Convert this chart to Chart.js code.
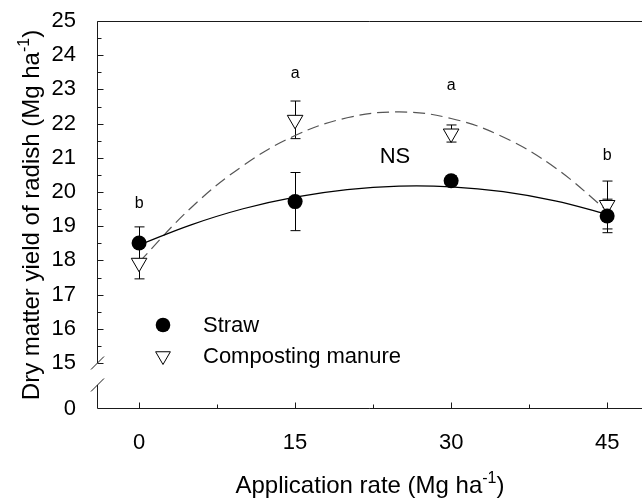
<!DOCTYPE html>
<html><head><meta charset="utf-8">
<script src="https://cdn.jsdelivr.net/npm/chart.js@4.4.0/dist/chart.umd.min.js"></script>
<style>html,body{margin:0;padding:0;background:#fff;overflow:hidden}canvas{display:block}</style>
</head><body><canvas id="c" width="642" height="499" style="width:642px;height:499px"></canvas>
<script>
// ---- data ----
const rates = [0, 15, 30, 45];
const strawMean = [18.51, 19.72, 20.33, 19.30];
const strawErr = [0.47, 0.85, 0.15, 0.49];
const manureMean = [17.93, 22.11, 21.71, 19.62];
const manureErr = [0.47, 0.55, 0.25, 0.70];
// fitted quadratic curves
const fitRates = [0, 5, 10, 15, 20, 25, 30, 35, 40, 45];
const strawFit = [18.45, 19.04, 19.51, 19.85, 20.07, 20.17, 20.15, 20.01, 19.74, 19.35];
const manureFit = [17.95, 19.54, 20.77, 21.65, 22.17, 22.34, 22.15, 21.61, 20.71, 19.45];
// tick labels
const xTicks = [0, 15, 30, 45];
const xMinorTicks = [7.5, 22.5, 37.5];
const yTicks = [15, 16, 17, 18, 19, 20, 21, 22, 23, 24, 25];
const yMinorTicks = [15.5, 16.5, 17.5, 18.5, 19.5, 20.5, 21.5, 22.5, 23.5, 24.5];
const yBreakLabel = '0';
// significance letters
const letterText = ['b', 'a', 'a', 'b'];
const letterY = [19.65, 23.45, 23.1, 21.05];
const nsText = 'NS';
const nsPos = [24.6, 21.02];
const seriesNames = ['Straw', 'Composting manure'];
const xTitle = ['Application rate (Mg ha', '-1', ')'];
const yTitle = ['Dry matter yield of radish (Mg ha', '-1', ')'];

const Y_MIN = 13.655;   // position used for the "0" of the broken axis
const Y_BREAK_LOW = 14.357;
const FONT = '"Liberation Sans", Arial, sans-serif';

function toXY(xs, ys) { return xs.map((x, i) => ({x: x, y: ys[i]})); }

const frame = {
  id: 'frame',
  beforeDatasetsDraw(chart) {
    const {ctx, scales: {x, y}} = chart;
    ctx.save();
    ctx.strokeStyle = '#000'; ctx.lineWidth = 1;
    const bars = [[strawMean, strawErr], [manureMean, manureErr]];
    bars.forEach(([m, e]) => {
      rates.forEach((r, i) => {
        const px = Math.round(x.getPixelForValue(r)) + 0.5;
        const t = y.getPixelForValue(m[i] + e[i]);
        const b = y.getPixelForValue(m[i] - e[i]);
        ctx.beginPath();
        ctx.moveTo(px, t); ctx.lineTo(px, b);
        ctx.moveTo(px - 5, t); ctx.lineTo(px + 5, t);
        ctx.moveTo(px - 5, b); ctx.lineTo(px + 5, b);
        ctx.stroke();
      });
    });
    ctx.restore();
  },
  afterDraw(chart) {
    const {ctx, chartArea: a, scales: {x, y}} = chart;
    ctx.save();
    ctx.strokeStyle = '#1a1a1a'; ctx.lineWidth = 1;
    const L = Math.round(a.left) - 0.5, B = Math.round(a.bottom) - 0.5, T = Math.round(a.top) + 0.5;
    ctx.beginPath();
    ctx.moveTo(L, T); ctx.lineTo(a.right, T);
    ctx.moveTo(L, B); ctx.lineTo(a.right, B);
    const yb1 = y.getPixelForValue(15), yb2 = y.getPixelForValue(Y_BREAK_LOW);
    ctx.moveTo(L, T); ctx.lineTo(L, yb1);
    ctx.moveTo(L, yb2); ctx.lineTo(L, B);
    ctx.moveTo(L - 6.5, yb1 + 6.5); ctx.lineTo(L + 6.5, yb1 - 6.5);
    ctx.moveTo(L - 6.5, yb2 + 6.5); ctx.lineTo(L + 6.5, yb2 - 6.5);
    yTicks.forEach(v => { const p = Math.round(y.getPixelForValue(v)) + 0.5; ctx.moveTo(L, p); ctx.lineTo(L + 6, p); });
    yMinorTicks.forEach(v => { const p = Math.round(y.getPixelForValue(v)) + 0.5; ctx.moveTo(L, p); ctx.lineTo(L + 4, p); });
    xTicks.forEach(v => { const p = Math.round(x.getPixelForValue(v)) + 0.5; ctx.moveTo(p, B); ctx.lineTo(p, B - 6); });
    xMinorTicks.forEach(v => { const p = Math.round(x.getPixelForValue(v)) + 0.5; ctx.moveTo(p, B); ctx.lineTo(p, B - 4); });
    ctx.stroke();

    ctx.fillStyle = '#000';
    ctx.textAlign = 'center'; ctx.textBaseline = 'middle';
    ctx.font = '16px ' + FONT;
    rates.forEach((r, i) => ctx.fillText(letterText[i], x.getPixelForValue(r), y.getPixelForValue(letterY[i])));
    ctx.font = '22px ' + FONT;
    ctx.fillText(nsText, x.getPixelForValue(nsPos[0]), y.getPixelForValue(nsPos[1]));

    // legend
    const lx = a.left + 65, ly = a.top + 304, gap = 31, tx = a.left + 105;
    ctx.beginPath(); ctx.arc(lx, ly, 7.3, 0, Math.PI * 2); ctx.fillStyle = '#000'; ctx.fill();
    const tr = 8.5, ty = ly + gap;
    ctx.beginPath();
    ctx.moveTo(lx - tr * 0.866, ty - tr * 0.5);
    ctx.lineTo(lx + tr * 0.866, ty - tr * 0.5);
    ctx.lineTo(lx, ty + tr);
    ctx.closePath(); ctx.fillStyle = '#fff'; ctx.fill(); ctx.strokeStyle = '#000'; ctx.stroke();
    ctx.fillStyle = '#000'; ctx.textAlign = 'left'; ctx.font = '22px ' + FONT;
    ctx.fillText(seriesNames[0], tx, ly + 1);
    ctx.fillText(seriesNames[1], tx, ty + 1);

    function drawTitle(parts, size) {
      ctx.font = size + 'px ' + FONT;
      const w0 = ctx.measureText(parts[0]).width;
      ctx.font = Math.round(size * 0.68) + 'px ' + FONT;
      const w1 = ctx.measureText(parts[1]).width;
      ctx.font = size + 'px ' + FONT;
      const w2 = ctx.measureText(parts[2]).width;
      const W = w0 + w1 + w2;
      let s = -W / 2;
      ctx.textAlign = 'left'; ctx.textBaseline = 'alphabetic';
      ctx.fillText(parts[0], s, 0);
      ctx.font = Math.round(size * 0.68) + 'px ' + FONT;
      ctx.fillText(parts[1], s + w0, -size * 0.42);
      ctx.font = size + 'px ' + FONT;
      ctx.fillText(parts[2], s + w0 + w1, 0);
    }
    ctx.save();
    ctx.translate((a.left + a.right) / 2, 493);
    drawTitle(xTitle, 24);
    ctx.restore();
    ctx.save();
    ctx.translate(39, (a.top + a.bottom) / 2);
    ctx.rotate(-Math.PI / 2);
    drawTitle(yTitle, 24);
    ctx.restore();
    ctx.restore();
  }
};

new Chart(document.getElementById('c'), {
  type: 'scatter',
  data: {
    datasets: [
      { label: seriesNames[0], data: toXY(rates, strawMean), pointStyle: 'circle', pointRadius: 7.5, pointHoverRadius: 7.5,
        backgroundColor: '#000', borderColor: '#000', borderWidth: 0, order: 0 },
      { label: seriesNames[1], data: toXY(rates, manureMean), pointStyle: 'triangle', rotation: 180, pointRadius: 9, pointHoverRadius: 9,
        backgroundColor: '#fff', borderColor: '#000', borderWidth: 1, order: 1 },
      { type: 'line', label: 'Straw fit', data: toXY(fitRates, strawFit), borderColor: '#000', borderWidth: 1.2,
        pointRadius: 0, tension: 0.4, fill: false, order: 2 },
      { type: 'line', label: 'Manure fit', data: toXY(fitRates, manureFit), borderColor: '#555', borderWidth: 1.2,
        borderDash: [12, 6], pointRadius: 0, tension: 0.4, fill: false, order: 3 }
    ]
  },
  options: {
    responsive: false, animation: false,
    layout: { autoPadding: false, padding: { top: 21, left: 0, right: 0, bottom: 0 } },
    plugins: { legend: { display: false }, tooltip: { enabled: false } },
    scales: {
      x: {
        type: 'linear', min: -3.95, max: 48.35,
        grid: { display: false }, border: { display: false },
        afterBuildTicks: s => { s.ticks = xTicks.map(v => ({value: v})); },
        afterFit: s => { s.height = 90; s.paddingLeft = 0; s.paddingRight = 0; },
        ticks: { padding: 13, color: '#000', font: { family: FONT, size: 22 }, maxRotation: 0 }
      },
      y: {
        type: 'linear', min: Y_MIN, max: 25,
        grid: { display: false }, border: { display: false },
        afterBuildTicks: s => { s.ticks = [{value: Y_MIN}].concat(yTicks.map(v => ({value: v}))); },
        afterFit: s => { s.width = 98; s.paddingTop = 0; s.paddingBottom = 0; },
        ticks: { padding: 14, color: '#000', font: { family: FONT, size: 22 },
          callback: v => (v < 15 ? yBreakLabel : String(v)) }
      }
    }
  },
  plugins: [frame]
});
</script></body></html>
